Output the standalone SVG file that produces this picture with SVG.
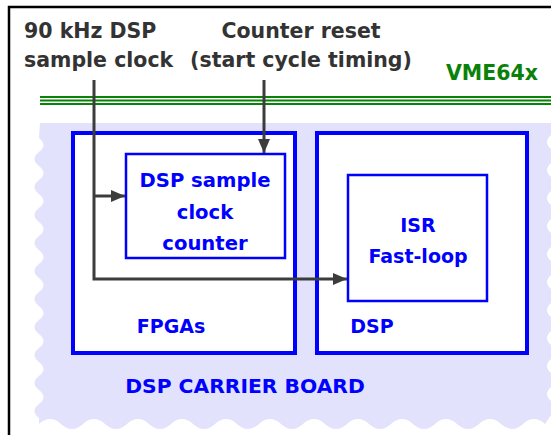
<svg xmlns="http://www.w3.org/2000/svg" width="551" height="435" viewBox="0 0 551 435">
  <style>
    .lbl { font-family: "DejaVu Sans", "Liberation Sans", sans-serif; font-weight: bold; }
    .dark { fill: #333333; font-size: 20.5px; }
    .blue { fill: #0000ff; font-size: 19px; }
    .inner { font-size: 19.6px; }
    .board { font-size: 20.3px; }
    .box { fill: #ffffff; stroke: #0000ff; }
    .wire { fill: none; stroke: #3c3c3c; stroke-width: 3; }
    .bus { stroke: #0a820a; stroke-width: 2; }
  </style>
  <defs>
    <marker id="arrow" markerUnits="userSpaceOnUse" markerWidth="15" markerHeight="14" refX="14" refY="7" orient="auto">
      <path d="M0,1 L14,7 L0,13 Z" fill="#3c3c3c"/>
    </marker>
  </defs>

  <!-- page frame -->
  <rect x="0" y="0" width="551" height="435" fill="#ffffff"/>
  <path d="M9 435 V7 H551" fill="none" stroke="#000000" stroke-width="2.5"/>

  <!-- VME64x bus -->
  <g id="vme64x">
    <line class="bus" x1="40" y1="97" x2="551" y2="97"/>
    <line class="bus" x1="40" y1="100.5" x2="551" y2="100.5"/>
    <line class="bus" x1="40" y1="104" x2="551" y2="104"/>
    <text class="lbl" x="446" y="80" font-size="20.5" fill="#0a820a">VME64x</text>
  </g>

  <!-- carrier board with torn edges -->
  <g id="carrier-board">
    <path fill="#e2e2fc" d="M40 123 H551 V135
      q -8 7 0 14 t 0 14 t 0 14 t 0 14 t 0 14 t 0 14 t 0 14 t 0 14 t 0 14 t 0 14
      t 0 14 t 0 14 t 0 14 t 0 14 t 0 14 t 0 14 t 0 14 t 0 14 t 0 14 t 0 14
      L545 424
      q -11 -10 -22 0 t -22 0 t -22 0 t -22 0 t -22 0 t -22 0 t -22 0 t -22 0
      t -22 0 t -22 0 t -22 0 t -22 0 t -22 0 t -22 0 t -22 0 t -22 0
      t -22 0 t -22 0 t -22 0 t -22 0 t -22 0 t -22 0 t -22 0
      L39 418
      q -9 -7 0 -14 t 0 -14 t 0 -14 t 0 -14 t 0 -14 t 0 -14 t 0 -14 t 0 -14 t 0 -14 t 0 -14
      t 0 -14 t 0 -14 t 0 -14 t 0 -14 t 0 -14 t 0 -14 t 0 -14 t 0 -14 t 0 -14 t 0 -14 Z"/>
    <text class="lbl blue board" x="245" y="393" text-anchor="middle">DSP CARRIER BOARD</text>
  </g>

  <!-- FPGA block -->
  <g id="fpgas">
    <rect class="box" x="73" y="133" width="222" height="220" stroke-width="4"/>
    <text class="lbl blue" x="171" y="333" text-anchor="middle">FPGAs</text>
  </g>

  <!-- DSP block -->
  <g id="dsp">
    <rect class="box" x="317" y="133" width="210" height="220" stroke-width="4"/>
    <text class="lbl blue" x="372" y="333" text-anchor="middle">DSP</text>
  </g>

  <!-- sample clock counter inside the FPGAs -->
  <g id="clock-counter">
    <rect class="box" x="126" y="154" width="159" height="104" stroke-width="2.5"/>
    <text class="lbl blue inner" x="205" y="187" text-anchor="middle">DSP sample</text>
    <text class="lbl blue inner" x="205" y="219" text-anchor="middle">clock</text>
    <text class="lbl blue inner" x="205" y="250" text-anchor="middle">counter</text>
  </g>

  <!-- interrupt service routine inside the DSP -->
  <g id="isr">
    <rect class="box" x="348" y="175" width="139" height="126" stroke-width="2.5"/>
    <text class="lbl blue" x="418" y="232" text-anchor="middle">ISR</text>
    <text class="lbl blue" x="418" y="263" text-anchor="middle">Fast-loop</text>
  </g>

  <!-- input signal labels -->
  <g id="sample-clock-label">
    <text class="lbl dark" x="24" y="38">90 kHz DSP</text>
    <text class="lbl dark" x="24" y="67">sample clock</text>
  </g>
  <g id="counter-reset-label">
    <text class="lbl dark" x="301" y="38" text-anchor="middle">Counter reset</text>
    <text class="lbl dark" x="301" y="67" text-anchor="middle">(start cycle timing)</text>
  </g>

  <!-- connectors -->
  <g id="connectors">
    <path class="wire" d="M94 80 V279 H347" marker-end="url(#arrow)"/>
    <path class="wire" d="M94 196 H125" marker-end="url(#arrow)"/>
    <path class="wire" d="M264 80 V153" marker-end="url(#arrow)"/>
  </g>
</svg>
